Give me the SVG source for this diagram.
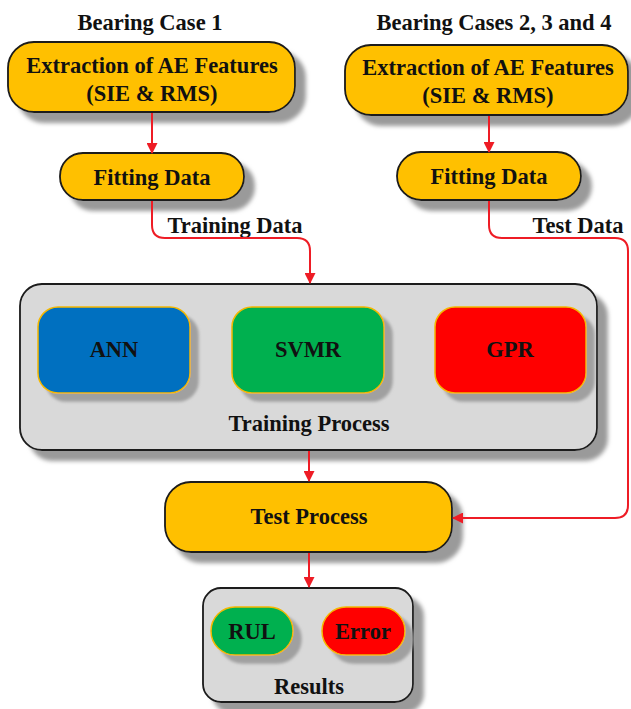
<svg xmlns="http://www.w3.org/2000/svg" width="631" height="709" viewBox="0 0 631 709">
<defs>
<filter id="sh" x="-10%" y="-10%" width="130%" height="140%">
<feGaussianBlur in="SourceAlpha" stdDeviation="2"/>
<feOffset dx="10" dy="10" result="b"/>
<feFlood flood-color="#9a9a9a"/>
<feComposite in2="b" operator="in" result="s"/>
<feMerge><feMergeNode in="s"/><feMergeNode in="SourceGraphic"/></feMerge>
</filter>
<filter id="sh2" x="-10%" y="-10%" width="130%" height="140%">
<feGaussianBlur in="SourceAlpha" stdDeviation="1.5"/>
<feOffset dx="8" dy="8" result="b"/>
<feFlood flood-color="#a0a0a0"/>
<feComposite in2="b" operator="in" result="s"/>
<feMerge><feMergeNode in="s"/><feMergeNode in="SourceGraphic"/></feMerge>
</filter>
<marker id="ah" markerWidth="11" markerHeight="11" refX="10" refY="5.5" orient="auto" markerUnits="userSpaceOnUse">
<path d="M0,0 L11,5.5 L0,11 z" fill="#ee1c25"/>
</marker>
<style>
text{font-family:"Liberation Serif","Times New Roman",serif;font-weight:bold;font-size:22.5px;text-anchor:middle;fill:#111}
.org{fill:#FFC000;stroke:#1a1a1a;stroke-width:1.8;filter:url(#sh)}
.gry{fill:#D9D9D9;stroke:#1a1a1a;stroke-width:1.8;filter:url(#sh)}
.in{stroke:#F5B800;stroke-width:1.5;filter:url(#sh2)}
.con{fill:none;stroke:#ee1c25;stroke-width:2;marker-end:url(#ah)}
</style>
</defs>
<text x="150" y="30">Bearing Case 1</text>
<text x="494" y="30">Bearing Cases 2, 3 and 4</text>
<g id="extract1">
<rect class="org" x="8" y="42" width="287" height="70" rx="26"/>
<text x="152" y="73">Extraction of AE Features</text>
<text x="152" y="101">(SIE &amp; RMS)</text>
</g>
<g id="extract2">
<rect class="org" x="345" y="45" width="283" height="70" rx="26"/>
<text x="488" y="75">Extraction of AE Features</text>
<text x="488" y="103">(SIE &amp; RMS)</text>
</g>
<g id="fit1">
<rect class="org" x="60" y="153" width="184" height="47" rx="23"/>
<text x="152" y="185">Fitting Data</text>
</g>
<g id="fit2">
<rect class="org" x="397" y="152" width="184" height="48" rx="24"/>
<text x="489" y="184">Fitting Data</text>
</g>
<text x="235" y="233">Training Data</text>
<text x="578" y="233">Test Data</text>
<g id="training">
<rect class="gry" x="20" y="284" width="577" height="166" rx="22"/>
<text x="309" y="431">Training Process</text>
</g>
<g id="ann">
<rect class="in" x="38" y="307" width="152" height="86" rx="20" fill="#0070C0"/>
<text x="114" y="357">ANN</text>
</g>
<g id="svmr">
<rect class="in" x="232" y="307" width="152" height="86" rx="20" fill="#00B050"/>
<text x="308" y="357">SVMR</text>
</g>
<g id="gpr">
<rect class="in" x="435" y="307" width="151" height="86" rx="20" fill="#FF0000"/>
<text x="510" y="357">GPR</text>
</g>
<g id="test">
<rect class="org" x="165" y="482" width="287" height="70" rx="26"/>
<text x="309" y="524">Test Process</text>
</g>
<g id="results">
<rect class="gry" x="203" y="588" width="210" height="114" rx="18"/>
<text x="309" y="694">Results</text>
</g>
<g id="rul">
<rect class="in" x="211" y="607" width="82" height="48" rx="24" fill="#00B050"/>
<text x="252" y="639">RUL</text>
</g>
<g id="error">
<rect class="in" x="322" y="607" width="83" height="48" rx="24" fill="#FF0000"/>
<text x="363" y="639">Error</text>
</g>
<g id="connectors">
<path class="con" d="M152,113 V153"/>
<path class="con" d="M489,116 V152"/>
<path class="con" d="M152,201 V225 Q152,238 165,238 H297 Q310,238 310,251 V283"/>
<path class="con" d="M489,201 V225 Q489,238 502,238 H615 Q628,238 628,251 V505 Q628,518 615,518 H453"/>
<path class="con" d="M309,451 V481"/>
<path class="con" d="M309,553 V587"/>
</g>
</svg>
